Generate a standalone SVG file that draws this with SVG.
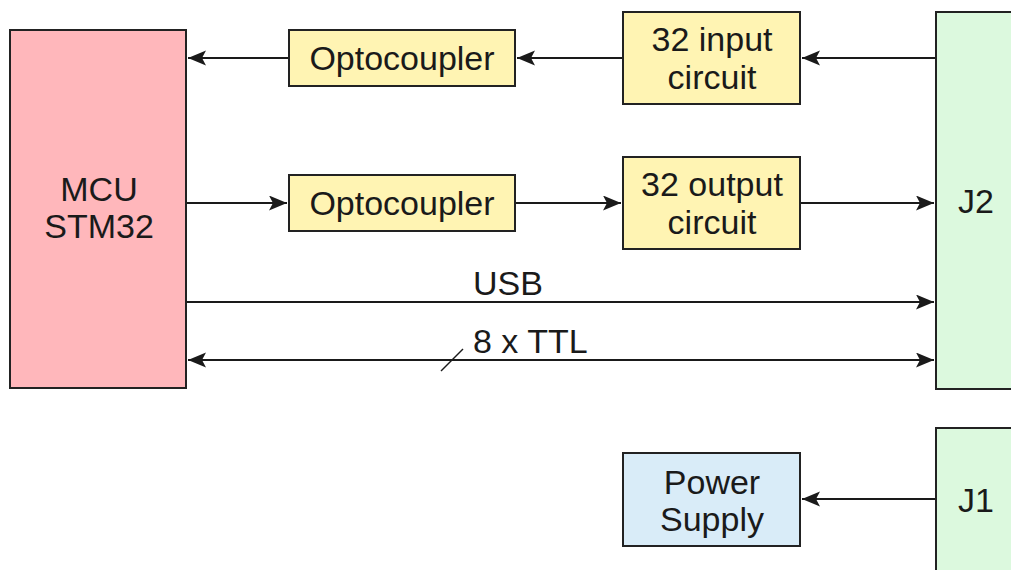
<svg xmlns="http://www.w3.org/2000/svg" width="1011" height="570" viewBox="0 0 1011 570">
<style>
.box{stroke:#222;stroke-width:2}
.mcu{fill:#ffb7bb}
.yel{fill:#fff4b3}
.grn{fill:#dcf9de}
.blu{fill:#d9ecf8}
text{font-family:"Liberation Sans",Arial,sans-serif;font-size:34px;fill:#1a1a1a;text-anchor:middle}
.ln{stroke:#1a1a1a;stroke-width:2;fill:none}
</style>
<defs>
<marker id="ah" markerUnits="userSpaceOnUse" markerWidth="22" markerHeight="18" refX="18" refY="7.5" orient="auto-start-reverse">
<path d="M0,0 L18,7.5 L0,15 L4,7.5 z" fill="#1a1a1a"/>
</marker>
</defs>
<rect width="1011" height="570" fill="#fff"/>
<g id="connectors">
<line class="ln" x1="289" y1="58" x2="188" y2="58" marker-end="url(#ah)"/>
<line class="ln" x1="623" y1="58" x2="517" y2="58" marker-end="url(#ah)"/>
<line class="ln" x1="936" y1="58" x2="802" y2="58" marker-end="url(#ah)"/>
<line class="ln" x1="186" y1="203" x2="287" y2="203" marker-end="url(#ah)"/>
<line class="ln" x1="515" y1="203" x2="621" y2="203" marker-end="url(#ah)"/>
<line class="ln" x1="800" y1="203" x2="934" y2="203" marker-end="url(#ah)"/>
<line class="ln" x1="186" y1="302" x2="934" y2="302" marker-end="url(#ah)"/>
<text x="508" y="295">USB</text>
<line class="ln" x1="188" y1="360" x2="934" y2="360" marker-start="url(#ah)" marker-end="url(#ah)"/>
<line class="ln" x1="441" y1="371" x2="463" y2="349" style="stroke-width:1.5"/>
<text x="473" y="353" style="text-anchor:start">8 x TTL</text>
<line class="ln" x1="936" y1="499" x2="802" y2="499" marker-end="url(#ah)"/>
</g>
<g id="mcu">
<rect class="box mcu" x="10" y="30" width="176" height="358"/>
<text x="99" y="201">MCU</text>
<text x="99" y="238">STM32</text>
</g>
<g id="opto1">
<rect class="box yel" x="289" y="30" width="226" height="56"/>
<text x="402" y="70">Optocoupler</text>
</g>
<g id="input">
<rect class="box yel" x="623" y="12" width="177" height="92"/>
<text x="712" y="51">32 input</text>
<text x="712" y="89">circuit</text>
</g>
<g id="opto2">
<rect class="box yel" x="289" y="175" width="226" height="56"/>
<text x="402" y="215">Optocoupler</text>
</g>
<g id="output">
<rect class="box yel" x="623" y="157" width="177" height="92"/>
<text x="712" y="196">32 output</text>
<text x="712" y="234">circuit</text>
</g>
<g id="j2">
<rect class="box grn" x="936" y="12" width="90" height="377"/>
<text x="976" y="213">J2</text>
</g>
<g id="j1">
<rect class="box grn" x="936" y="428" width="90" height="160"/>
<text x="976" y="512">J1</text>
</g>
<g id="power">
<rect class="box blu" x="623" y="453" width="177" height="93"/>
<text x="712" y="494">Power</text>
<text x="712" y="531">Supply</text>
</g>
</svg>
